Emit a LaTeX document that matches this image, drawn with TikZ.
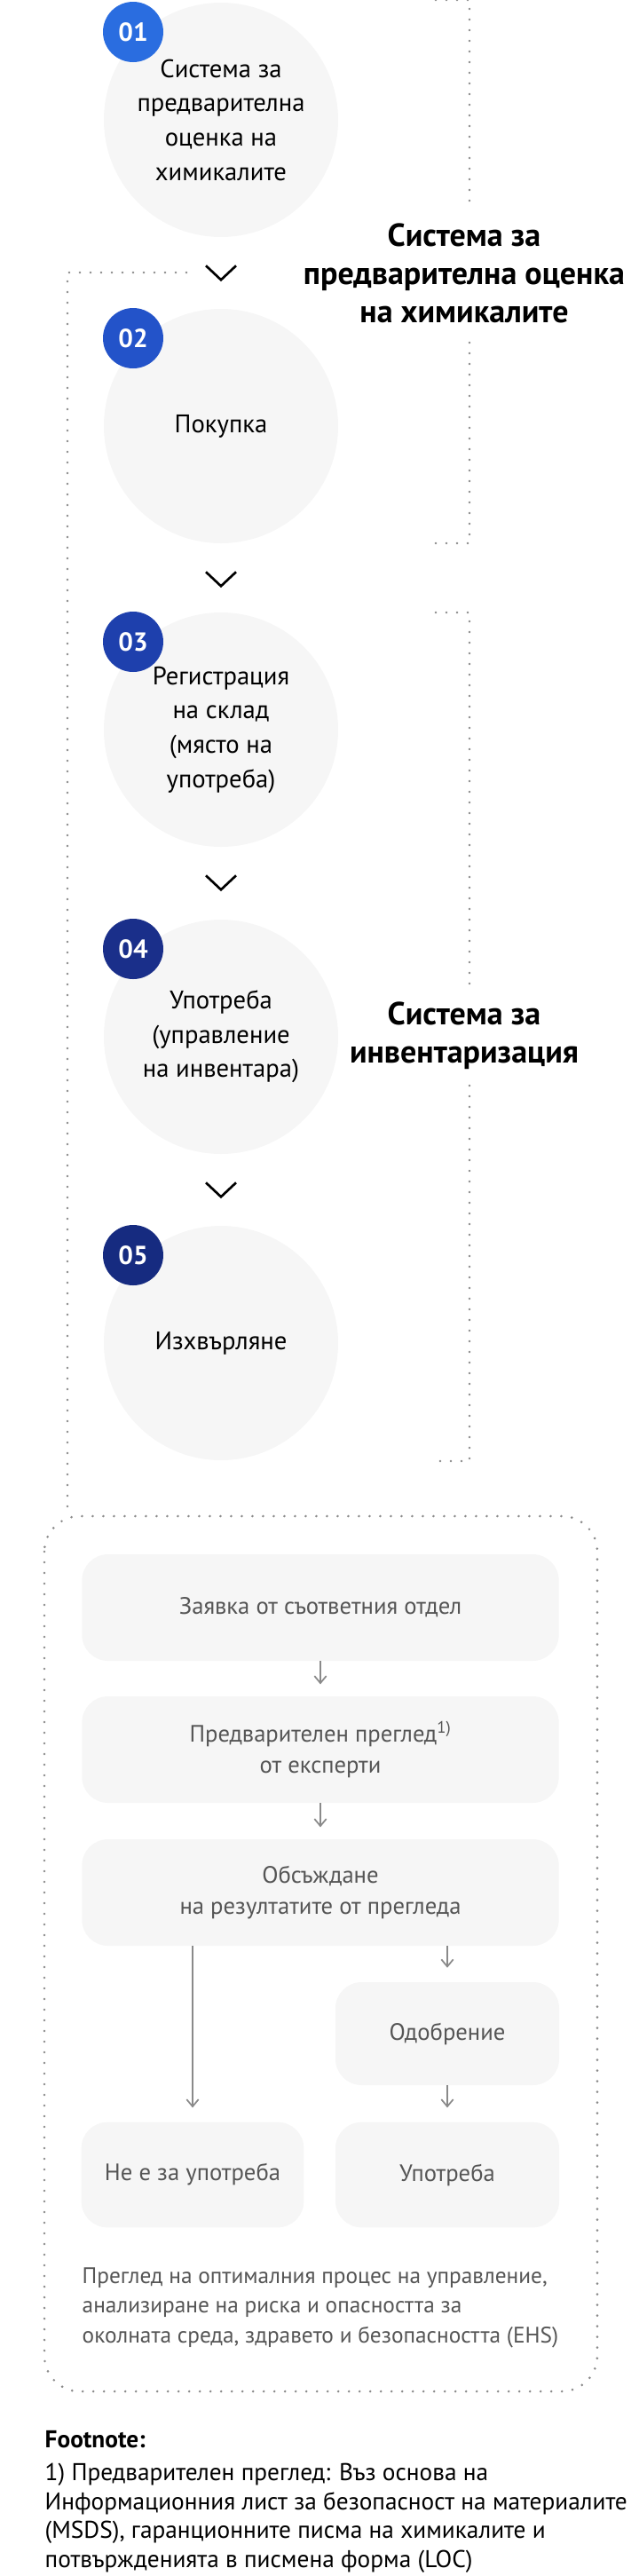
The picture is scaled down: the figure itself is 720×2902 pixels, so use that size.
\documentclass[tikz,border=0pt]{standalone}
\usepackage{fontspec}
\setmainfont{PT Sans}
\usetikzlibrary{positioning, calc, arrows.meta}
\definecolor{stepfill}{HTML}{F6F6F6}
\definecolor{dotgrey}{HTML}{8A8A8A}
\definecolor{boxtext}{HTML}{555555}
\definecolor{badgeA}{HTML}{2A6DE0}
\definecolor{badgeB}{HTML}{2353C9}
\definecolor{badgeC}{HTML}{1E40AD}
\definecolor{badgeD}{HTML}{1A2F8A}
\definecolor{badgeE}{HTML}{162B80}

\begin{document}
\begin{tikzpicture}[
    x=0.75pt, y=-0.75pt,
    every node/.style={align=center},
    stepcircle/.style={circle, minimum size=198pt, inner sep=0pt, fill=stepfill, font=\fontsize{21.5}{29}\selectfont},
    badge/.style={circle, minimum size=51pt, inner sep=0pt, text=white, font=\bfseries\fontsize{22}{22}\selectfont},
    chevron/.style={black, line width=2pt},
    dotline/.style={dotgrey, line width=2.2pt, line cap=round, dash pattern=on 0pt off 9pt},
    grouplabel/.style={font=\bfseries\fontsize{27}{32.5}\selectfont},
    procbox/.style={rounded corners=22pt, fill=stepfill, text=boxtext, font=\fontsize{20}{26}\selectfont},
    arrow/.style={dotgrey, line width=1.3pt, -{Straight Barb[length=6pt,width=10pt]}}
]
\useasboundingbox (0,0) rectangle (720,2902);

% Steps
\node (c1) [stepcircle] at (249,135) {Система за\\предварителна\\оценка на\\химикалите};
\node (c2) [stepcircle] at (249,480) {Покупка};
\node (c3) [stepcircle] at (249,822) {Регистрация\\на склад\\(място на\\употреба)};
\node (c4) [stepcircle] at (249,1168) {Употреба\\(управление\\на инвентара)};
\node (c5) [stepcircle] at (249,1513) {Изхвърляне};

% Badges
\node (b1) [badge, fill=badgeA] at (150,36) {01};
\node (b2) [badge, fill=badgeB] at (150,381) {02};
\node (b3) [badge, fill=badgeC] at (150,723) {03};
\node (b4) [badge, fill=badgeD] at (150,1069) {04};
\node (b5) [badge, fill=badgeE] at (150,1414) {05};

% Chevrons
\foreach \i in {1,...,4} {
    \draw [chevron] ($(c\i.south)+(-17,32)$) -- ++(17,16) -- ++(17,-16);
}

% Group brackets
\draw [dotline] (491,0) -- (529,0) -- (529,231);
\node (g1) [grouplabel] at (523,308) {Система за\\предварителна оценка\\на химикалите};
\draw [dotline] (529,386) -- (529,612) -- (491,612);
\draw [dotline] (491,690) -- (529,690) -- (529,1113);
\node (g2) [grouplabel] at (523,1167) {Система за\\инвентаризация};
\draw [dotline] (529,1223) -- (529,1646) -- (491,1646);

% Link to review process
\draw [dotline] (210,307) -- (76,307) -- (76,1697);
\draw [dotline, rounded corners=30pt] (50,1708) rectangle (673,2694);

% Review process
\node (r1) [procbox, minimum width=403pt, minimum height=90pt] at (361,1811) {Заявка от съответния отдел};
\node (r2) [procbox, minimum width=403pt, minimum height=90pt] at (361,1971) {Предварителен преглед\textsuperscript{1)}\\от експерти};
\node (r3) [procbox, minimum width=403pt, minimum height=90pt] at (361,2132) {Обсъждане\\на резултатите от прегледа};
\node (r4) [procbox, minimum width=189pt, minimum height=87pt] at (504,2291) {Одобрение};
\node (r5) [procbox, minimum width=188pt, minimum height=89pt] at (217,2450) {Не е за употреба};
\node (r6) [procbox, minimum width=189pt, minimum height=89pt] at (504,2450) {Употреба};

\draw [arrow, shorten >=10pt] (r1) -- (r2);
\draw [arrow, shorten >=10pt] (r2) -- (r3);
\draw [arrow, shorten >=12pt] (r3.south -| r5) -- (r5);
\draw [arrow, shorten >=12pt] (r3.south -| r4) -- (r4);
\draw [arrow, shorten >=12pt] (r4) -- (r6);

\node (note) [anchor=north west, align=left, text=boxtext, font=\fontsize{19}{25}\selectfont] at (88,2550)
    {Преглед на оптималния процес на управление,\\анализиране на риска и опасността за\\околната среда, здравето и безопасността (EHS)};

% Footnote
\node (fn) [anchor=north west, align=left, font=\fontsize{20.5}{24.5}\selectfont] at (46,2734)
    {\textbf{Footnote:}\\[3pt]1) Предварителен преглед: Въз основа на\\Информационния лист за безопасност на материалите\\(MSDS), гаранционните писма на химикалите и\\потвържденията в писмена форма (LOC)};

\end{tikzpicture}
\end{document}
